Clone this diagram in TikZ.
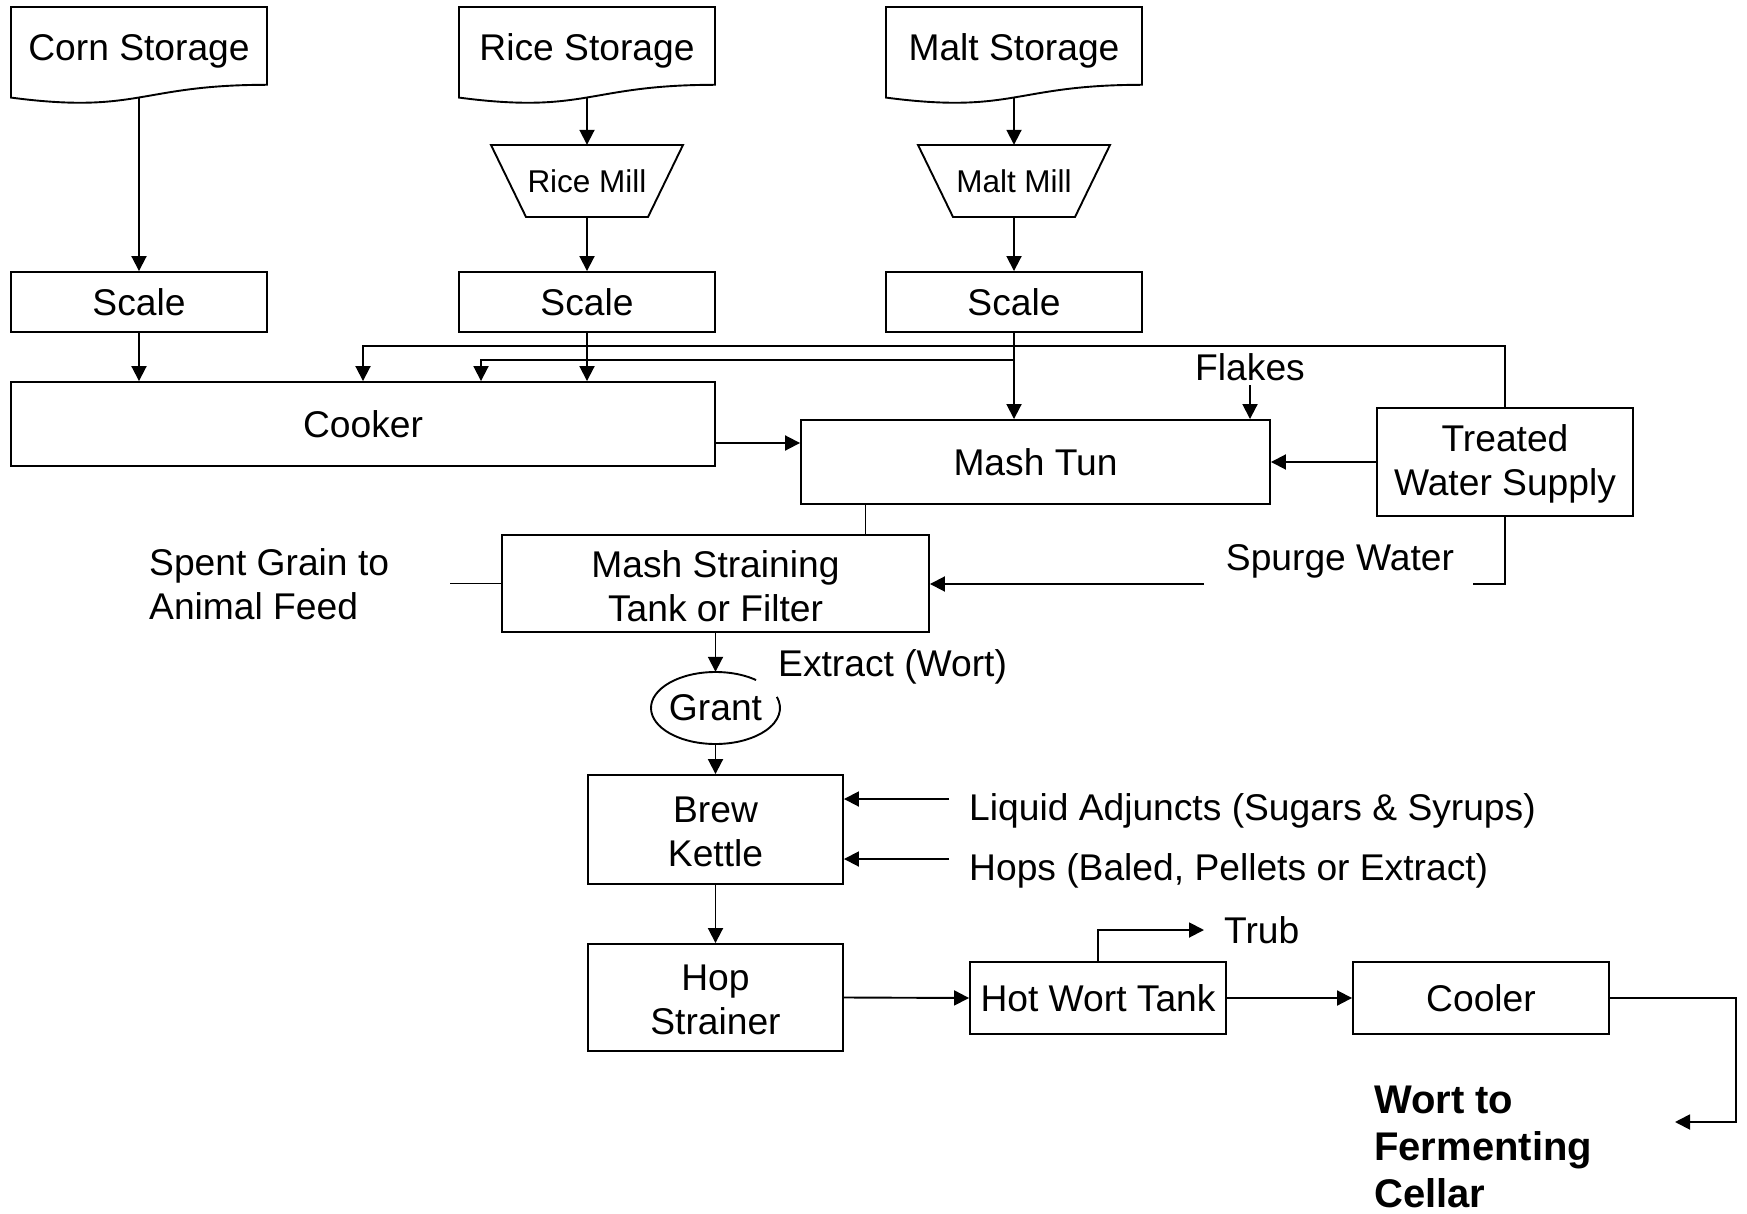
\documentclass[tikz,border=0pt]{standalone}
\usepackage{fontspec}
\setmainfont{Liberation Sans}
\usetikzlibrary{arrows.meta}
\newcommand\docbox[3]{%
  \draw[box] (#1,#3) -- (#2,#3) -- (#2,#3+77.8)
    .. controls ({(#1+#2)/2},#3+77.8) and ({(#1+#2)/2},#3+107.4) .. (#1,#3+90.6) -- cycle;}
\begin{document}
\begin{tikzpicture}[x=1pt,y=-1pt,
  every node/.style={font=\fontsize{37.2}{44}\selectfont, inner sep=0pt, align=center},
  box/.style={draw, line width=1.9pt},
  proc/.style={box, rectangle},
  ln/.style={line width=1.9pt},
  thinln/.style={line width=1pt},
  arr/.style={ln, -{Triangle[length=15pt,width=15pt]}},
  millfont/.style={font=\fontsize{31.5}{38}\selectfont}]
\useasboundingbox (0,0) rectangle (1747,1214);

% storages
\docbox{11}{267}{7}
\docbox{459}{715}{7}
\docbox{886}{1142}{7}
\node (corn) at (139,51) {Corn Storage};
\node (rice) at (587,51) {Rice Storage};
\node (malt) at (1014,51) {Malt Storage};
\coordinate (cornb) at (139,97.5);
\coordinate (riceb) at (587,97.5);
\coordinate (maltb) at (1014,97.5);

% mills
\draw[box] (491,145) -- (683,145) -- (648,217) -- (526,217) -- cycle;
\draw[box] (918,145) -- (1110,145) -- (1075,217) -- (953,217) -- cycle;
\node[millfont, minimum width=192pt, minimum height=72pt] (ricemill) at (587,181) {Rice Mill};
\node[millfont, minimum width=192pt, minimum height=72pt] (maltmill) at (1014,181) {Malt Mill};

% scales
\node[proc, minimum width=256pt, minimum height=60pt] (cornscale) at (139,302) {Scale};
\node[proc, minimum width=256pt, minimum height=60pt] (ricescale) at (587,302) {Scale};
\node[proc, minimum width=256pt, minimum height=60pt] (maltscale) at (1014,302) {Scale};

% main boxes
\node[proc, minimum width=704pt, minimum height=84pt] (cooker) at (363,424) {Cooker};
\node[proc, minimum width=469pt, minimum height=84pt] (mashtun) at (1035.5,462) {Mash Tun};
\node[proc, minimum width=256pt, minimum height=108pt] (treated) at (1505,462) {};
\node at (1505,464) {Treated\\Water Supply};
\node[proc, minimum width=427pt, minimum height=97pt] (mashstrain) at (715.5,583.5) {};
\node at (715.5,586) {Mash Straining\\Tank or Filter};
\node[minimum width=129pt, minimum height=72pt] (grant) at (715.5,708) {Grant};
\node[proc, minimum width=255pt, minimum height=109pt] (kettle) at (715.5,829.5) {};
\node at (715.5,831.5) {Brew\\Kettle};
\node[proc, minimum width=255pt, minimum height=107pt] (hop) at (715.5,997.5) {};
\node at (715.5,999.5) {Hop\\Strainer};
\node[proc, minimum width=256pt, minimum height=72pt] (hotwort) at (1098,998) {Hot Wort Tank};
\node[proc, minimum width=256pt, minimum height=72pt] (cooler) at (1481,998) {Cooler};

% grant outline with gap
\draw[ln] (grant.center) ++(51:64.5pt and 36pt) arc[start angle=51, end angle=378, x radius=64.5pt, y radius=36pt];

% labels
\node (flakes) at (1250,367) {Flakes};
\node (spurge) at (1340,561) {Spurge Water};
\node[anchor=west, align=left] (spent) at (149,584) {Spent Grain to\\Animal Feed};
\node[anchor=west] (extract) at (778,667) {Extract (Wort)};
\node[anchor=west] (liquid) at (969,811) {Liquid Adjuncts (Sugars \& Syrups)};
\node[anchor=west] (hops) at (969,871) {Hops (Baled, Pellets or Extract)};
\node[anchor=west] (trub) at (1224,930) {Trub};
\node[anchor=west, align=left, font=\bfseries\fontsize{40}{47}\selectfont] (wort) at (1374,1147) {Wort to\\Fermenting\\Cellar};

% connectors top
\draw[arr] (cornb) -- (cornscale.north);
\draw[arr] (riceb) -- (ricemill.north);
\draw[arr] (ricemill.south) -- (ricescale.north);
\draw[arr] (maltb) -- (maltmill.north);
\draw[arr] (maltmill.south) -- (maltscale.north);
\draw[arr] (cornscale.south) -- (cornscale.south |- cooker.north);
\draw[arr] (ricescale.south) -- (ricescale.south |- cooker.north);
\draw[arr] (maltscale.south) -- (maltscale.south |- mashtun.north);
\coordinate (jn) at (1014,360);
\draw[arr] (jn) -| ([xshift=118pt]cooker.north);
\draw[arr] (treated.north) -- ++(0,-61) -| (cooker.north);
\coordinate (flk) at (1250,385);
\draw[arr] (flk) -- (flk |- mashtun.north);
\path ([yshift=-19pt]cooker.east) coordinate (ck);
\draw[arr] (ck) -- (ck -| mashtun.west);
\draw[arr] (treated.west) -- (mashtun.east);

% spurge
\coordinate (sp1) at (1473,584);
\draw[ln] (treated.south) |- (sp1);
\coordinate (sp2) at (1204,584);
\draw[arr] (sp2) -- (sp2 -| mashstrain.east);

% mash tun to straining
\path ([xshift=-170.5pt]mashtun.south) coordinate (mt1);
\draw[thinln] (mt1) -- (mt1 |- mashstrain.north);

% spent grain
\coordinate (sg) at (450,583.5);
\draw[ln] (sg) -- (mashstrain.west);

% lower chain
\draw[arr] (mashstrain.south) -- (grant.north);
\draw[arr] (grant.south) -- (kettle.north);
\coordinate (la) at (949,799);
\draw[arr] (la) -- (la -| kettle.east);
\coordinate (hp) at (949,859);
\draw[arr] (hp) -- (hp -| kettle.east);
\draw[arr] (kettle.south) -- (hop.north);
\draw[arr] (hop.east) -- (hotwort.west);
\coordinate (trubend) at (1204,930);
\draw[arr] (hotwort.north) |- (trubend);
\draw[arr] (hotwort.east) -- (cooler.west);
\coordinate (cr) at (1736,1122);
\coordinate (ft) at (1675,1122);
\draw[arr] (cooler.east) -| (cr) -- (ft);
\end{tikzpicture}
\end{document}
